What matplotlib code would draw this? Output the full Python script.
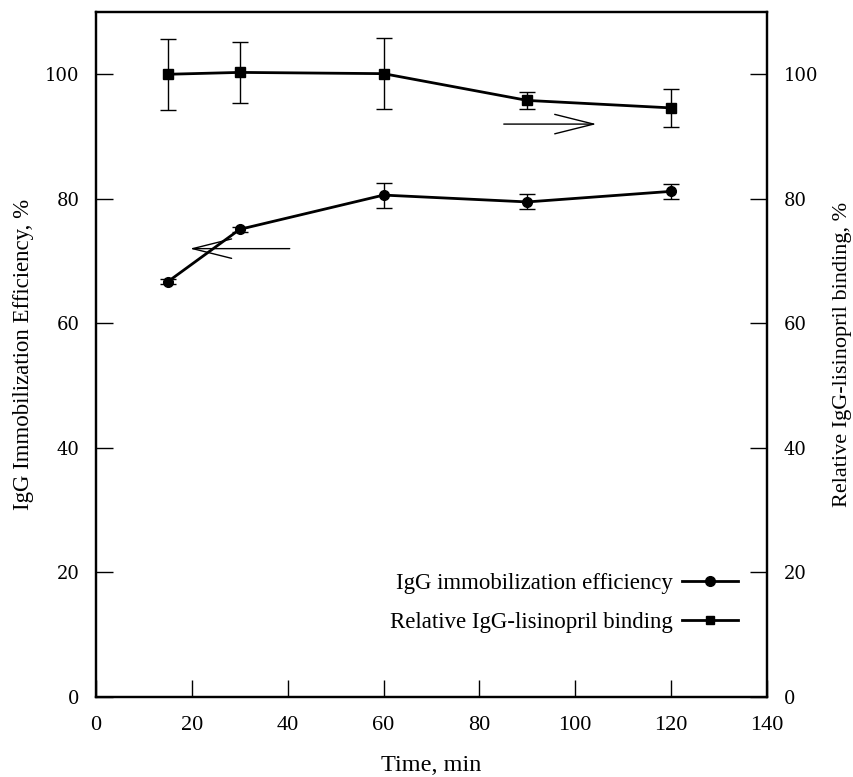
import matplotlib
matplotlib.use("Agg")
import matplotlib.pyplot as plt
from matplotlib.lines import Line2D

# incubation time, min
time_min = [15, 30, 60, 90, 120]

# IgG immobilization efficiency, % (left axis)
efficiency = [66.7, 75.1, 80.6, 79.5, 81.2]
efficiency_err = [0.4, 0.4, 2.0, 1.2, 1.2]

# relative IgG-lisinopril binding, % (right axis)
binding = [100.0, 100.3, 100.1, 95.8, 94.6]
binding_err = [5.7, 4.9, 5.7, 1.3, 3.0]

# arrows telling which axis each curve belongs to
left_arrow_tail, left_arrow_tip = (41.0, 72.0), (19.0, 72.0)
right_arrow_tail, right_arrow_tip = (84.5, 92.0), (105.0, 92.0)

label_font = "Liberation Serif"
tick_font = "DejaVu Serif"

fig = plt.figure(figsize=(8.54, 7.77), dpi=100)
ax = fig.add_axes([96 / 854, 1 - 697 / 777, (767 - 96) / 854, (697 - 12) / 777])
ax2 = ax.twinx()

ax.errorbar(time_min, efficiency, yerr=efficiency_err, fmt="-o", color="black",
            lw=2, ms=7, elinewidth=1, capsize=6, capthick=1)
ax2.errorbar(time_min, binding, yerr=binding_err, fmt="-s", color="black",
             lw=2, ms=6.5, elinewidth=1, capsize=6, capthick=1)

ax.annotate("", xy=left_arrow_tip, xytext=left_arrow_tail,
            arrowprops=dict(arrowstyle="->,head_length=2.8,head_width=0.7", lw=1, color="black"))
ax2.annotate("", xy=right_arrow_tip, xytext=right_arrow_tail,
             arrowprops=dict(arrowstyle="->,head_length=2.8,head_width=0.7", lw=1, color="black"))

ax.set_xlim(0, 140)
ax.set_ylim(0, 110)
ax2.set_ylim(0, 110)
ax.set_xticks(range(0, 141, 20))
ax.set_yticks(range(0, 101, 20))
ax2.set_yticks(range(0, 101, 20))

for a in (ax, ax2):
    for s in a.spines.values():
        s.set_linewidth(1.6)
ax.tick_params(axis="x", direction="in", length=12, width=1, pad=14)
ax.tick_params(axis="y", direction="in", length=12, width=1, pad=12)
ax2.tick_params(axis="y", direction="in", length=12, width=1, pad=12)

for lab in ax.get_xticklabels():
    lab.set_fontfamily(label_font)
    lab.set_fontsize(16)
for lab in ax.get_yticklabels() + ax2.get_yticklabels():
    lab.set_fontfamily(tick_font)
    lab.set_fontsize(13)

ax.set_xlabel("Time, min", fontfamily=label_font, fontsize=17.5, labelpad=14)
ax.set_ylabel("IgG Immobilization Efficiency, %", fontfamily=label_font, fontsize=16.5, labelpad=8)
ax2.set_ylabel("Relative IgG-lisinopril binding, %", fontfamily=label_font, fontsize=16,
               rotation=90, labelpad=11)

handles = [
    Line2D([], [], color="black", lw=2, marker="o", ms=7),
    Line2D([], [], color="black", lw=2, marker="s", ms=6),
]
labels = ["IgG immobilization efficiency", "Relative IgG-lisinopril binding"]
ax.legend(handles, labels, loc="lower right", bbox_to_anchor=(0.957, 0.094),
          frameon=False, markerfirst=False, handlelength=2.45, handletextpad=0.4,
          borderpad=0, borderaxespad=0, labelspacing=0.75,
          prop={"family": label_font, "size": 16.5})

fig.savefig("out.png", dpi=100)
